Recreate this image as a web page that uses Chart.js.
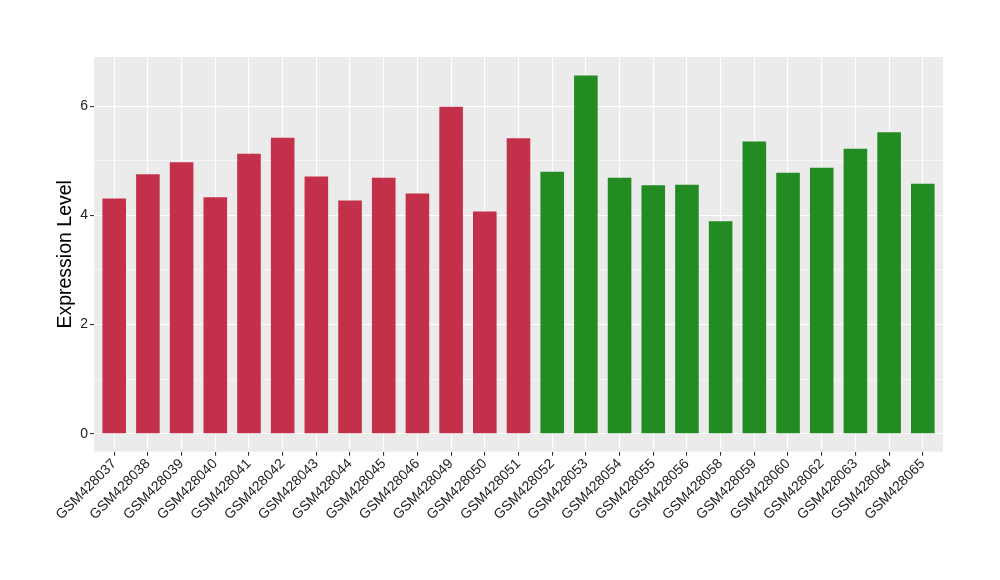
<!DOCTYPE html>
<html>
<head>
<meta charset="utf-8">
<script src="https://cdn.jsdelivr.net/npm/chart.js@4"></script>
<style>
  html, body { margin: 0; padding: 0; background: #fff; }
  #wrap { width: 1000px; height: 580px; }
</style>
</head>
<body>
<div id="wrap"><canvas id="expressionChart" width="1000" height="580"></canvas></div>
<script>
const samples = ['GSM428037', 'GSM428038', 'GSM428039', 'GSM428040', 'GSM428041', 'GSM428042', 'GSM428043',
    'GSM428044', 'GSM428045', 'GSM428046', 'GSM428049', 'GSM428050', 'GSM428051', 'GSM428052', 'GSM428053',
    'GSM428054', 'GSM428055', 'GSM428056', 'GSM428058', 'GSM428059', 'GSM428060', 'GSM428062', 'GSM428063',
    'GSM428064', 'GSM428065'];
const expression = [4.31, 4.75, 4.97, 4.33, 5.13, 5.42, 4.71, 4.27, 4.69, 4.40, 5.99, 4.07, 5.41,
    4.80, 6.56, 4.69, 4.55, 4.56, 3.89, 5.35, 4.78, 4.87, 5.22, 5.52, 4.58];
const groups = ['a', 'a', 'a', 'a', 'a', 'a', 'a', 'a', 'a', 'a', 'a', 'a', 'a',
    'b', 'b', 'b', 'b', 'b', 'b', 'b', 'b', 'b', 'b', 'b', 'b'];
const yTicks = [0, 1, 2, 3, 4, 5, 6];

const groupColors = { a: '#C3304A', b: '#228B22' };

// grey ggplot-style panel behind the plot
const panelBg = {
    id: 'panelBg',
    beforeDraw(chart) {
        const { ctx, chartArea: a } = chart;
        ctx.save();
        ctx.fillStyle = '#EBEBEB';
        ctx.fillRect(a.left, a.top, a.right - a.left, a.bottom - a.top);
        ctx.restore();
    }
};

const ctx = document.getElementById('expressionChart').getContext('2d');
const expressionChart = new Chart(ctx, {
    type: 'bar',
    data: {
        datasets: [{
            data: expression.map((v, i) => ({ x: i, y: v })),
            backgroundColor: groups.map(g => groupColors[g]),
            borderWidth: 0,
            barPercentage: 0.7,
            categoryPercentage: 1
        }]
    },
    options: {
        responsive: false,
        animation: false,
        layout: { padding: { left: 0, top: 57, right: 57, bottom: 0 } },
        plugins: {
            legend: { display: false },
            tooltip: { enabled: false }
        },
        scales: {
            x: {
                type: 'linear',
                offset: false,
                min: -0.6,
                max: samples.length - 0.4,
                afterBuildTicks: scale => { scale.ticks = samples.map((s, i) => ({ value: i })); },
                afterFit: scale => { scale.height = 128.3; },
                border: { display: false },
                grid: {
                    offset: false,
                    color: '#FFFFFF',
                    lineWidth: 1.1,
                    tickColor: '#333333',
                    tickLength: 4
                },
                ticks: {
                    autoSkip: false,
                    minRotation: 45,
                    maxRotation: 45,
                    padding: 0,
                    color: '#222222',
                    font: { family: 'Liberation Sans', size: 14 },
                    callback: v => samples[v]
                }
            },
            y: {
                min: -0.33,
                max: 6.9,
                afterBuildTicks: scale => { scale.ticks = yTicks.map(v => ({ value: v })); },
                afterFit: scale => { scale.width = 94; },
                border: { display: false },
                grid: {
                    color: '#FFFFFF',
                    lineWidth: c => (c.tick && c.tick.value % 2 === 0) ? 1.1 : 0.55,
                    tickColor: c => (c.tick && c.tick.value % 2 === 0) ? '#333333' : 'rgba(0,0,0,0)',
                    tickLength: 4
                },
                ticks: {
                    padding: 2,
                    color: '#222222',
                    font: { family: 'Liberation Sans', size: 14 },
                    callback: v => (v % 2 === 0) ? String(v) : ''
                },
                title: {
                    display: true,
                    text: 'Expression Level',
                    color: '#000000',
                    font: { family: 'Liberation Sans', size: 19.5 },
                    padding: { top: 54, bottom: 0 }
                }
            }
        }
    },
    plugins: [panelBg]
});
</script>
</body>
</html>
